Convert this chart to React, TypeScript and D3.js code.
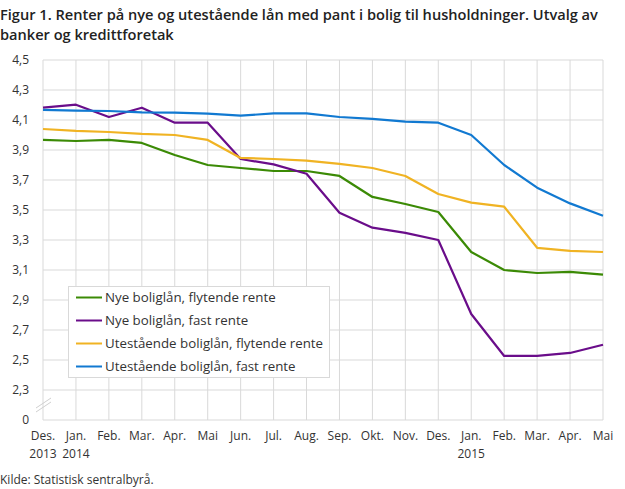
import * as d3 from "d3";

const months = ["Des.", "Jan.", "Feb.", "Mar.", "Apr.", "Mai", "Jun.", "Jul.", "Aug.", "Sep.", "Okt.", "Nov.", "Des.", "Jan.", "Feb.", "Mar.", "Apr.", "Mai"];
const years: Record<number, string> = { 0: "2013", 1: "2014", 13: "2015" };

const nyeFlytende = [3.967, 3.96, 3.967, 3.947, 3.867, 3.8, 3.78, 3.76, 3.76, 3.727, 3.587, 3.54, 3.487, 3.22, 3.1, 3.08, 3.087, 3.069];
const nyeFast = [4.182, 4.202, 4.12, 4.182, 4.082, 4.082, 3.84, 3.804, 3.742, 3.482, 3.382, 3.347, 3.3, 2.807, 2.527, 2.527, 2.547, 2.602];
const utestFlytende = [4.04, 4.027, 4.02, 4.007, 4.0, 3.967, 3.847, 3.84, 3.829, 3.807, 3.78, 3.727, 3.607, 3.549, 3.522, 3.248, 3.227, 3.22];
const utestFast = [4.167, 4.162, 4.16, 4.151, 4.149, 4.142, 4.129, 4.144, 4.144, 4.12, 4.107, 4.089, 4.082, 4.0, 3.8, 3.649, 3.544, 3.462];

const yTicks = [2.1, 2.3, 2.5, 2.7, 2.9, 3.1, 3.3, 3.5, 3.7, 3.9, 4.1, 4.3, 4.5];

const series = [
  { name: "Nye boliglån, flytende rente", values: nyeFlytende, color: "#3b8a05" },
  { name: "Nye boliglån, fast rente", values: nyeFast, color: "#6a0d8a" },
  { name: "Utestående boliglån, flytende rente", values: utestFlytende, color: "#f0b323" },
  { name: "Utestående boliglån, fast rente", values: utestFast, color: "#1179d1" },
];

const W = 625;
const H = 489;
const margin = { left: 43, right: 22, top: 60, bottom: 69 };
const font = "'Open Sans', sans-serif";
const textColor = "#333";

export default function App() {
  const x = d3.scaleLinear().domain([0, months.length - 1]).range([margin.left, W - margin.right]);
  const y = d3.scaleLinear().domain([2.1, 4.5]).range([H - margin.bottom, margin.top]);
  const line = d3
    .line<number>()
    .x((_, i) => x(i))
    .y((d) => y(d));
  // bottom tick is the axis break, shown as 0
  const fmt = (v: number) => (v === 2.1 ? "0" : d3.format(".1f")(v).replace(".", ","));

  return (
    <svg
      width={W}
      height={H}
      style={{ position: "absolute", left: 0, top: 0, fontFamily: font }}
    >
      <rect width={W} height={H} fill="#fff" />
      <text x={0} y={20} fontSize={14.6} fontWeight={600} fill="#222">
        Figur 1. Renter på nye og utestående lån med pant i bolig til husholdninger. Utvalg av
      </text>
      <text x={0} y={40} fontSize={14.6} fontWeight={600} fill="#222">
        banker og kredittforetak
      </text>

      {/* grid */}
      {yTicks.map((t) => (
        <line key={"h" + t} x1={x(0)} x2={x(months.length - 1)} y1={y(t)} y2={y(t)} stroke="#d9d9d9" strokeWidth={1} />
      ))}
      {months.map((_, i) => (
        <line key={"v" + i} x1={x(i)} x2={x(i)} y1={y(4.5)} y2={y(2.1)} stroke="#d9d9d9" strokeWidth={1} />
      ))}

      {/* y labels */}
      {yTicks.map((t) => (
        <text key={"yl" + t} x={29} y={y(t) + 4} fontSize={12} textAnchor="end" fill={textColor}>
          {fmt(t)}
        </text>
      ))}

      {/* axis break */}
      <line x1={36} y1={408} x2={51} y2={398} stroke="#d0d0d0" strokeWidth={1} />
      <line x1={36} y1={412} x2={51} y2={402} stroke="#d0d0d0" strokeWidth={1} />

      {/* x labels */}
      {months.map((m, i) => (
        <text key={"xl" + i} x={x(i)} y={440} fontSize={12} textAnchor="middle" fill={textColor}>
          {m}
        </text>
      ))}
      {Object.entries(years).map(([i, yr]) => (
        <text key={"yr" + i} x={x(+i)} y={458} fontSize={12} textAnchor="middle" fill={textColor}>
          {yr}
        </text>
      ))}

      {/* lines */}
      {series.map((s) => (
        <path key={s.name} d={line(s.values) || ""} fill="none" stroke={s.color} strokeWidth={2.2} strokeLinejoin="round" />
      ))}

      {/* legend */}
      <rect x={68.5} y={286.5} width={261} height={91} fill="#fff" stroke="#d9d9d9" strokeWidth={1} />
      {series.map((s, i) => (
        <g key={"lg" + s.name} transform={`translate(76,${297.5 + i * 23})`}>
          <line x1={0} x2={26} y1={0} y2={0} stroke={s.color} strokeWidth={2} />
          <text x={29} y={4.7} fontSize={13.3} fill={textColor}>
            {s.name}
          </text>
        </g>
      ))}

      <text x={0} y={484} fontSize={12} fill={textColor}>
        Kilde: Statistisk sentralbyrå.
      </text>
    </svg>
  );
}
